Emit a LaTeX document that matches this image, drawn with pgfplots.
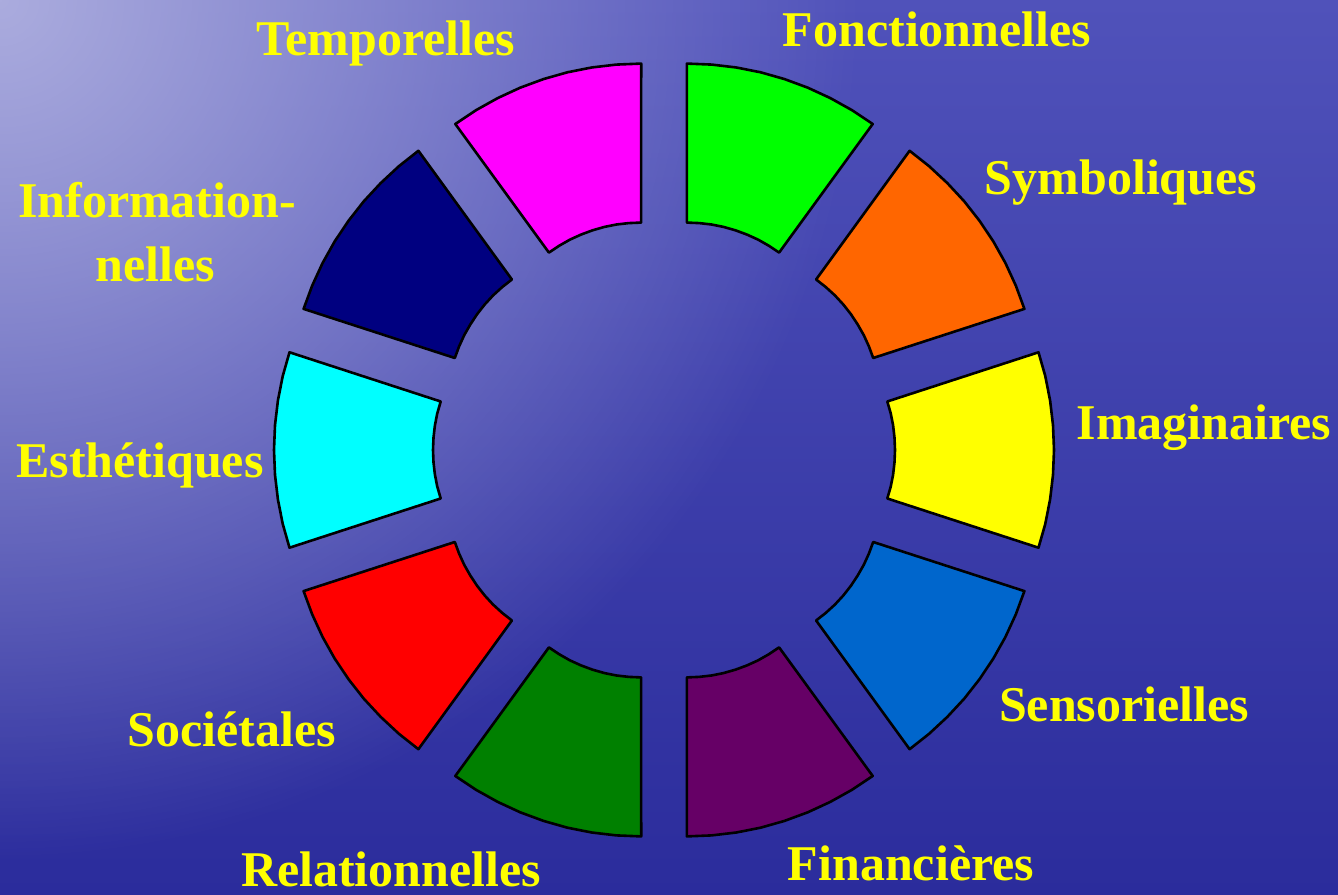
\documentclass[border=0pt]{standalone}
\usepackage{pgfplots}
\pgfplotsset{compat=1.18}
\usetikzlibrary{shadings,fadings}
\usepackage{fontspec}
\setmainfont{Liberation Serif}
\definecolor{cFon}{HTML}{00FF00}
\definecolor{cSym}{HTML}{FF6600}
\definecolor{cIma}{HTML}{FFFF00}
\definecolor{cSen}{HTML}{0066CC}
\definecolor{cFin}{HTML}{660066}
\definecolor{cRel}{HTML}{008000}
\definecolor{cSoc}{HTML}{FF0000}
\definecolor{cEst}{HTML}{00FFFF}
\definecolor{cInf}{HTML}{000080}
\definecolor{cTem}{HTML}{FF00FF}
\definecolor{bgTop}{HTML}{5052BA}
\definecolor{bgMid}{HTML}{3638A6}
\definecolor{bgBot}{HTML}{2B2C9C}
\definecolor{bgLight}{HTML}{ABACDE}
\definecolor{lab}{HTML}{FFFF00}
\tikzfading[name=bgfade, inner color=transparent!0, outer color=transparent!100]
\begin{document}
\begin{tikzpicture}
\begin{axis}[x=0.5pt, y=0.5pt, xmin=-664, xmax=674, ymin=-444, ymax=450,
  hide axis, clip=false,
  every axis plot/.append style={draw=black, line width=1.3pt, line join=round}]
\shade[top color=bgTop, middle color=bgMid, bottom color=bgBot]
  (axis cs:-664,-444) rectangle (axis cs:674,450);
\begin{scope}
\clip (axis cs:-664,-444) rectangle (axis cs:674,450);
\fill[bgLight, path fading=bgfade] (axis cs:-664,450) circle[radius=430pt];
\end{scope}
% Fonctionnelles
\addplot[fill=cFon] coordinates {(22.8,386.4) (47.7,385.4) (72.3,382.5) (96.6,377.7) (120.5,370.9) (143.8,362.3) (166.3,351.9) (188.0,339.8) (208.7,326.0) (115.1,197.4) (104.9,204.2) (94.2,210.3) (83.0,215.4) (71.4,219.7) (59.5,223.1) (47.4,225.5) (35.2,226.9) (22.9,227.4)} -- cycle;
% Symboliques
\addplot[fill=cSym] coordinates {(245.6,299.2) (265.1,283.8) (283.3,266.9) (300.2,248.7) (315.5,229.2) (329.3,208.6) (341.4,187.0) (351.8,164.4) (360.4,141.1) (209.2,92.0) (204.9,103.6) (199.8,114.8) (193.7,125.5) (186.9,135.8) (179.3,145.5) (170.9,154.6) (161.8,162.9) (152.1,170.5)} -- cycle;
% Imaginaires
\addplot[fill=cIma] coordinates {(374.5,97.7) (381.3,73.8) (386.1,49.4) (389.0,24.8) (390,0) (389.0,-24.8) (386.1,-49.4) (381.3,-73.8) (374.5,-97.7) (223.3,-48.5) (226.7,-36.7) (229.1,-24.6) (230.5,-12.3) (231,0) (230.5,12.3) (229.1,24.6) (226.7,36.7) (223.3,48.5)} -- cycle;
% Sensorielles
\addplot[fill=cSen] coordinates {(245.6,-299.2) (265.1,-283.8) (283.3,-266.9) (300.2,-248.7) (315.5,-229.2) (329.3,-208.6) (341.4,-187.0) (351.8,-164.4) (360.4,-141.1) (209.2,-92.0) (204.9,-103.6) (199.8,-114.8) (193.7,-125.5) (186.9,-135.8) (179.3,-145.5) (170.9,-154.6) (161.8,-162.9) (152.1,-170.5)} -- cycle;
% Financieres
\addplot[fill=cFin] coordinates {(22.8,-386.4) (47.7,-385.4) (72.3,-382.5) (96.6,-377.7) (120.5,-370.9) (143.8,-362.3) (166.3,-351.9) (188.0,-339.8) (208.7,-326.0) (115.1,-197.4) (104.9,-204.2) (94.2,-210.3) (83.0,-215.4) (71.4,-219.7) (59.5,-223.1) (47.4,-225.5) (35.2,-226.9) (22.9,-227.4)} -- cycle;
% Relationnelles
\addplot[fill=cRel] coordinates {(-22.8,-386.4) (-47.7,-385.4) (-72.3,-382.5) (-96.6,-377.7) (-120.5,-370.9) (-143.8,-362.3) (-166.3,-351.9) (-188.0,-339.8) (-208.7,-326.0) (-115.1,-197.4) (-104.9,-204.2) (-94.2,-210.3) (-83.0,-215.4) (-71.4,-219.7) (-59.5,-223.1) (-47.4,-225.5) (-35.2,-226.9) (-22.9,-227.4)} -- cycle;
% Societales
\addplot[fill=cSoc] coordinates {(-245.6,-299.2) (-265.1,-283.8) (-283.3,-266.9) (-300.2,-248.7) (-315.5,-229.2) (-329.3,-208.6) (-341.4,-187.0) (-351.8,-164.4) (-360.4,-141.1) (-209.2,-92.0) (-204.9,-103.6) (-199.8,-114.8) (-193.7,-125.5) (-186.9,-135.8) (-179.3,-145.5) (-170.9,-154.6) (-161.8,-162.9) (-152.1,-170.5)} -- cycle;
% Esthetiques
\addplot[fill=cEst] coordinates {(-374.5,97.7) (-381.3,73.8) (-386.1,49.4) (-389.0,24.8) (-390,0) (-389.0,-24.8) (-386.1,-49.4) (-381.3,-73.8) (-374.5,-97.7) (-223.3,-48.5) (-226.7,-36.7) (-229.1,-24.6) (-230.5,-12.3) (-231,0) (-230.5,12.3) (-229.1,24.6) (-226.7,36.7) (-223.3,48.5)} -- cycle;
% Informationnelles
\addplot[fill=cInf] coordinates {(-245.6,299.2) (-265.1,283.8) (-283.3,266.9) (-300.2,248.7) (-315.5,229.2) (-329.3,208.6) (-341.4,187.0) (-351.8,164.4) (-360.4,141.1) (-209.2,92.0) (-204.9,103.6) (-199.8,114.8) (-193.7,125.5) (-186.9,135.8) (-179.3,145.5) (-170.9,154.6) (-161.8,162.9) (-152.1,170.5)} -- cycle;
% Temporelles
\addplot[fill=cTem] coordinates {(-22.8,386.4) (-47.7,385.4) (-72.3,382.5) (-96.6,377.7) (-120.5,370.9) (-143.8,362.3) (-166.3,351.9) (-188.0,339.8) (-208.7,326.0) (-115.1,197.4) (-104.9,204.2) (-94.2,210.3) (-83.0,215.4) (-71.4,219.7) (-59.5,223.1) (-47.4,225.5) (-35.2,226.9) (-22.9,227.4)} -- cycle;
\tikzset{lbl/.style={anchor=base, text=lab, inner sep=0pt, font=\fontsize{25}{30}\selectfont\bfseries}}
\node[lbl] at (axis cs:-278,394) {Temporelles};
\node[lbl] at (axis cs:273,403) {Fonctionnelles};
\node[lbl] at (axis cs:-507,232) {Information-};
\node[lbl] at (axis cs:-509,168) {nelles};
\node[lbl] at (axis cs:-524,-28) {Esthétiques};
\node[lbl] at (axis cs:457,255) {Symboliques};
\node[lbl] at (axis cs:540,10) {Imaginaires};
\node[lbl] at (axis cs:460,-272) {Sensorielles};
\node[lbl] at (axis cs:247,-430) {Financières};
\node[lbl] at (axis cs:-273,-436) {Relationnelles};
\node[lbl] at (axis cs:-432,-297) {Sociétales};
\end{axis}
\end{tikzpicture}
\end{document}
